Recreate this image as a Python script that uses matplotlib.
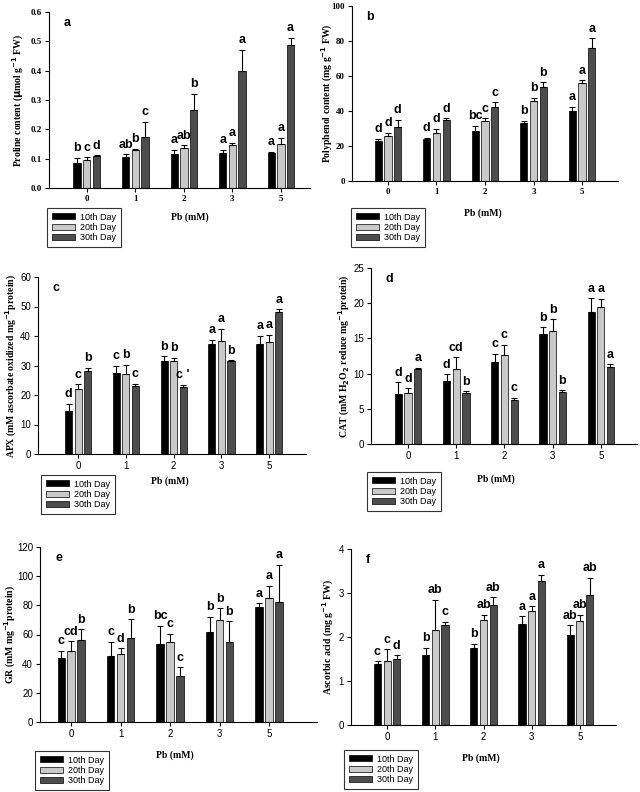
import numpy as np
import matplotlib.pyplot as plt
from matplotlib.patches import Patch

# dados
pb = ['0', '1', '2', '3', '5']
days = ['10th Day', '20th Day', '30th Day']

proline = [[0.085, 0.105, 0.115, 0.120, 0.120],
           [0.097, 0.130, 0.137, 0.145, 0.150],
           [0.108, 0.175, 0.265, 0.398, 0.488]]
proline_err = [[0.018, 0.010, 0.015, 0.010, 0.003],
               [0.008, 0.003, 0.008, 0.010, 0.022],
               [0.004, 0.050, 0.057, 0.073, 0.025]]
proline_let = [['b', 'ab', 'a', 'a', 'a'],
               ['c', 'b', 'ab', 'a', 'a'],
               ['d', 'c', 'b', 'a', 'a']]

polyphenol = [[23.0, 24.0, 28.5, 33.0, 40.0],
              [26.0, 27.5, 34.5, 45.5, 56.0],
              [31.0, 35.0, 42.5, 53.5, 76.0]]
polyphenol_err = [[1.0, 0.8, 3.0, 1.5, 2.5],
                  [1.5, 2.5, 1.5, 2.0, 1.5],
                  [4.0, 0.8, 2.5, 3.0, 5.5]]
polyphenol_let = [['d', 'd', 'bc', 'b', 'a'],
                  ['d', 'd', 'c', 'b', 'a'],
                  ['d', 'd', 'c', 'b', 'a']]

apx = [[14.7, 27.3, 31.5, 37.3, 37.2],
       [22.0, 27.2, 31.5, 38.2, 37.8],
       [28.3, 23.0, 22.6, 31.6, 48.2]]
apx_err = [[2.3, 2.7, 1.7, 1.5, 2.8],
           [1.7, 3.0, 1.2, 4.2, 2.6],
           [1.0, 0.8, 0.8, 0.2, 0.9]]
apx_let = [['d', 'c', 'b', 'a', 'a'],
           ['c', 'b', 'b', 'a', 'a'],
           ['b', 'c', "c '", 'b', 'a']]

cat = [[7.1, 9.0, 11.7, 15.6, 18.8],
       [7.2, 10.7, 12.7, 16.0, 19.4],
       [10.6, 7.2, 6.2, 7.4, 10.9]]
cat_err = [[1.7, 0.9, 1.1, 1.0, 1.9],
           [0.7, 1.6, 1.4, 1.7, 1.2],
           [0.2, 0.3, 0.4, 0.2, 0.4]]
cat_let = [['d', 'd', 'c', 'b', 'a'],
           ['d', 'cd', 'c', 'b', 'a'],
           ['a', 'b', 'c', 'b', 'a']]

gr = [[44.0, 45.5, 53.5, 62.0, 79.0],
      [49.0, 46.5, 55.0, 70.0, 85.0],
      [56.0, 57.5, 31.5, 55.0, 82.0]]
gr_err = [[5.0, 9.5, 12.5, 10.0, 2.5],
          [6.5, 4.0, 5.5, 8.0, 8.5],
          [7.5, 13.0, 6.0, 14.0, 26.0]]
gr_let = [['c', 'c', 'bc', 'b', 'a'],
          ['cd', 'd', 'c', 'b', 'a'],
          ['b', 'b', 'c', 'b', 'a']]

ascorbic = [[1.38, 1.60, 1.75, 2.30, 2.05],
            [1.45, 2.17, 2.38, 2.60, 2.37],
            [1.50, 2.28, 2.72, 3.27, 2.95]]
ascorbic_err = [[0.07, 0.15, 0.10, 0.17, 0.22],
                [0.27, 0.68, 0.12, 0.10, 0.13],
                [0.08, 0.07, 0.18, 0.15, 0.40]]
ascorbic_let = [['c', 'b', 'b', 'a', 'ab'],
                ['c', 'ab', 'ab', 'a', 'ab'],
                ['d', 'c', 'ab', 'a', 'ab']]

SERIF = 'Liberation Serif'
SANS = 'Liberation Sans'
colors = ['#000000', '#c9c9c9', '#4d4d4d']

W, H = 640, 792
fig = plt.figure(figsize=(W / 100, H / 100), dpi=100)


def px_axes(x0, x1, ytop, ybot):
    return fig.add_axes([x0 / W, 1 - ybot / H, (x1 - x0) / W, (ybot - ytop) / H])


panels = [
    # dados, erro, letras, ylabel, ylim, passo, caixa (px), xlim, letra, fonte ticks, legenda, Pb, x do ylabel
    (proline, proline_err, proline_let, r'Proline content ($\mathbf{\mu}$mol g$^{\mathbf{-1}}$ FW)',
     0.6, 0.1, (49, 310, 12, 188), (-0.78, 4.6), 'a', 'serif', (47, 208), (190, 217), 18),
    (polyphenol, polyphenol_err, polyphenol_let, r'Polyphenol content (mg g$^{\mathbf{-1}}$ FW)',
     100, 20, (352, 618, 6, 181), (-0.74, 4.74), 'b', 'serif', (351, 208), (483, 213), 327),
    (apx, apx_err, apx_let, r'APX (mM ascorbate oxidized mg$^{\mathbf{-1}}$protein)',
     60, 10, (38, 306, 277, 454), (-0.84, 4.77), 'c', 'sans', (41, 475), (170, 481), 11),
    (cat, cat_err, cat_let, r'CAT (mM H$_{\mathbf{2}}$O$_{\mathbf{2}}$ reduce mg$^{\mathbf{-1}}$protein)',
     25, 5, (371, 637, 268, 444), (-0.77, 4.75), 'd', 'sans', (367, 472), (496, 479), 344),
    (gr, gr_err, gr_let, r'GR (mM mg$^{\mathbf{-1}}$protein)',
     120, 20, (40, 317, 547, 722), (-0.63, 4.97), 'e', 'sans', (35, 751), (175, 755), 10),
    (ascorbic, ascorbic_err, ascorbic_let, r'Ascorbic acid (mg g$^{\mathbf{-1}}$ FW)',
     4, 1, (351, 616, 549, 725), (-0.75, 4.75), 'f', 'sans', (344, 750), (481, 758), 328),
]

x = np.arange(len(pb))
off = 0.2
bw = 0.15

for vals, errs, lets, ylab, ymax, step, box, xlim, tag, tickfont, legpos, pbpos, ylx in panels:
    ax = px_axes(*box)
    for i in range(3):
        v = np.array(vals[i])
        e = np.array(errs[i])
        ax.bar(x + (i - 1) * off, v, bw, color=colors[i], edgecolor='black', linewidth=0.5)
        ax.errorbar(x + (i - 1) * off, v, yerr=[np.zeros_like(e), e], fmt='none',
                    ecolor='black', elinewidth=0.8, capsize=2, capthick=0.8)
        for j in range(len(pb)):
            ax.text(x[j] + (i - 1) * off, v[j] + e[j] + ymax * 0.02, lets[i][j],
                    ha='center', va='bottom', fontsize=9, fontweight='bold', family=SANS)
    ax.set_xlim(*xlim)
    ax.set_ylim(0, ymax)
    ax.set_yticks(np.arange(0, ymax + step / 2, step))
    if ymax < 1:
        ax.set_yticklabels(['%.1f' % t for t in np.arange(0, ymax + step / 2, step)])
    ax.set_xticks(x)
    ax.set_xticklabels(pb)
    for s in ['top', 'right']:
        ax.spines[s].set_visible(False)
    ax.tick_params(length=3, width=0.8, pad=2)
    fam = SERIF if tickfont == 'serif' else SANS
    for lab in ax.get_xticklabels() + ax.get_yticklabels():
        lab.set_family(fam)
        lab.set_fontsize(6.5 if tickfont == 'serif' else 7)
        if tickfont == 'serif':
            lab.set_fontweight('bold')
    ax.set_ylabel(ylab, family=SERIF, fontweight='bold', fontsize=7, va='center')
    ax.yaxis.set_label_coords(ylx / W, 1 - (box[2] + box[3]) / 2 / H, transform=fig.transFigure)
    ax.text(0.055, 0.97, tag, transform=ax.transAxes, ha='left', va='top',
            fontsize=9, fontweight='bold', family=SANS)
    handles = [Patch(facecolor=colors[i], edgecolor='black', linewidth=0.5) for i in range(3)]
    leg = ax.legend(handles, days, loc='upper left',
                    bbox_to_anchor=(legpos[0] / W, 1 - legpos[1] / H), bbox_transform=fig.transFigure,
                    prop={'family': SANS, 'size': 6.5}, frameon=True, fancybox=False,
                    edgecolor='black', handlelength=2.6, handleheight=0.6,
                    labelspacing=0.15, borderpad=0.5, handletextpad=0.6, borderaxespad=0)
    leg.get_frame().set_linewidth(0.8)
    fig.text(pbpos[0] / W, 1 - pbpos[1] / H, 'Pb (mM)', ha='center', va='center',
             family=SERIF, fontweight='bold', fontsize=7)

fig.savefig('out.png', dpi=100, facecolor='white')
